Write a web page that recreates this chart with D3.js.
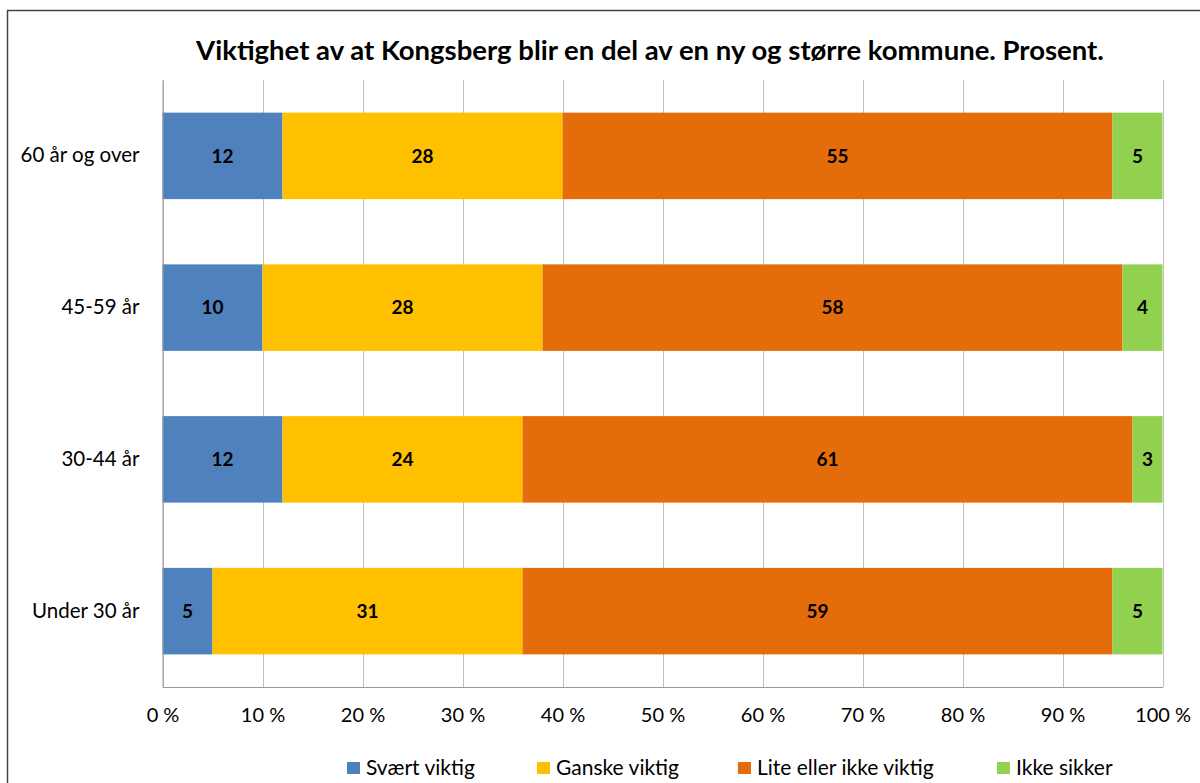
<!DOCTYPE html>
<html>
<head>
<meta charset="utf-8">
<script src="https://cdn.jsdelivr.net/npm/d3@7"></script>
<style>
  body { margin: 0; background: #fff; }
  svg { display: block; font-family: Lato, "Open Sans", sans-serif; }
</style>
</head>
<body>
<svg id="chart" width="1200" height="783"></svg>
<script>
// data
var groups = ["60 år og over", "45-59 år", "30-44 år", "Under 30 år"];
var series = ["Svært viktig", "Ganske viktig", "Lite eller ikke viktig", "Ikke sikker"];
var svaertViktig = [12, 10, 12, 5];
var ganskeViktig = [28, 28, 24, 31];
var liteViktig = [55, 58, 61, 59];
var ikkeSikker = [5, 4, 3, 5];
var ticks = [0, 10, 20, 30, 40, 50, 60, 70, 80, 90, 100];
var colors = ["#4F81BD", "#FFC000", "#E46C0A", "#92D050"];

var rows = groups.map(function(g, i) {
    return { group: g, "Svært viktig": svaertViktig[i], "Ganske viktig": ganskeViktig[i],
             "Lite eller ikke viktig": liteViktig[i], "Ikke sikker": ikkeSikker[i] };
});

var svg = d3.select("#chart");

// frame
svg.append("rect")
    .attr("x", 7.5).attr("y", 10.5)
    .attr("width", 1200).attr("height", 800)
    .attr("fill", "none").attr("stroke", "#444").attr("stroke-width", 1.5);

svg.append("text")
    .attr("x", 650).attr("y", 60)
    .attr("text-anchor", "middle")
    .attr("font-size", 27.5).attr("font-weight", "bold")
    .attr("fill", "#000")
    .text("Viktighet av at Kongsberg blir en del av en ny og større kommune. Prosent.");

var x = d3.scaleLinear().domain([0, 100]).range([162.5, 1162.5]);
var y = d3.scaleBand().domain(groups).range([80, 687]).paddingInner(0.43).paddingOuter(0.215);

// gridlines
svg.append("g").selectAll("line")
    .data(ticks)
    .join("line")
    .attr("x1", function(d) { return Math.round(x(d)) + 0.5; })
    .attr("x2", function(d) { return Math.round(x(d)) + 0.5; })
    .attr("y1", 80).attr("y2", 687)
    .attr("stroke", "#BFBFBF").attr("stroke-width", 1);

var stack = d3.stack().keys(series);
var layers = stack(rows);

var layer = svg.append("g").selectAll("g")
    .data(layers)
    .join("g")
    .attr("fill", function(d, i) { return colors[i]; });

layer.selectAll("rect")
    .data(function(d) { return d; })
    .join("rect")
    .attr("x", function(d) { return x(d[0]); })
    .attr("width", function(d) { return x(d[1]) - x(d[0]); })
    .attr("y", function(d) { return y(d.data.group); })
    .attr("height", y.bandwidth());

layer.selectAll("text")
    .data(function(d) { return d; })
    .join("text")
    .attr("x", function(d) { return (x(d[0]) + x(d[1])) / 2; })
    .attr("y", function(d) { return y(d.data.group) + y.bandwidth() / 2; })
    .attr("dy", "0.35em")
    .attr("text-anchor", "middle")
    .attr("font-size", 19).attr("font-weight", "bold")
    .attr("fill", "#000")
    .text(function(d) { return d[1] - d[0]; });

// axes
var xAxis = svg.append("g")
    .attr("transform", "translate(0,687)")
    .call(d3.axisBottom(x).tickValues(ticks).tickSize(0).tickPadding(21)
        .tickFormat(function(d) { return d + " %"; }));
xAxis.select(".domain").attr("stroke", "#999");
xAxis.selectAll("text").attr("font-size", 20).attr("fill", "#000")
    .attr("font-family", "Lato, sans-serif");

var yAxis = svg.append("g")
    .attr("transform", "translate(162.5,0)")
    .call(d3.axisLeft(y).tickSize(0).tickPadding(23));
yAxis.select(".domain").attr("stroke", "#999");
yAxis.selectAll("text").attr("font-size", 20.5).attr("fill", "#000")
    .attr("font-family", "Lato, sans-serif");

// legend
var legendX = [347, 537, 738, 997];
var legend = svg.append("g").selectAll("g")
    .data(series)
    .join("g")
    .attr("transform", function(d, i) { return "translate(" + legendX[i] + ",762)"; });
legend.append("rect")
    .attr("width", 13).attr("height", 12)
    .attr("fill", function(d, i) { return colors[i]; });
legend.append("text")
    .attr("x", 19).attr("y", 13)
    .attr("font-size", 21).attr("fill", "#000")
    .text(function(d) { return d; });
</script>
</body>
</html>
